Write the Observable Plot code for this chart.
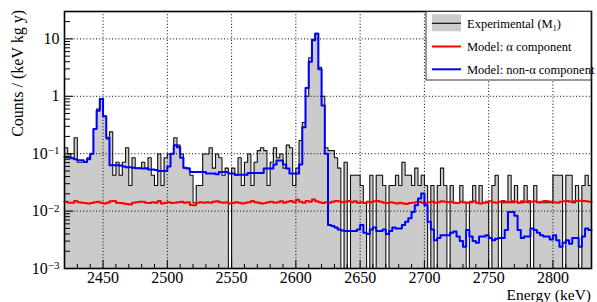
<!DOCTYPE html>
<html><head><meta charset="utf-8">
<script src="https://cdn.jsdelivr.net/npm/d3@7"></script>
<script src="https://cdn.jsdelivr.net/npm/@observablehq/plot@0.6"></script>
<style>
body{margin:0;background:#fff;}
#wrap{width:597px;height:302px;}
</style></head><body><div id="wrap"></div>
<script>
// Energy binning (keV)
const energyStart = 2420, binWidth = 2.5;
// Experimental (M1) counts / (keV kg y), one value per 2.5 keV bin
const experimental = [
0.127,0.099,0.085,0.19,0.071,0.071,0.071,0.085,0.099,0.27,
0.6,0.9,0.45,0.18,0.24,0.042,0.071,0.042,0.071,0.127,
0.028,0.085,0.056,0.056,0.071,0.056,0.085,0.042,0.028,0.099,
0.028,0.085,0.099,0.099,0.19,0.141,0.099,0.056,0.056,0.042,
0.014,0.028,0.028,0.099,0.099,0.127,0.056,0.099,0.085,0.042,
0.056,0,0.056,0.042,0.085,0.028,0.071,0.099,0.028,0.071,
0.113,0.127,0.113,0.028,0.071,0.127,0.085,0.099,0.056,0.141,
0.127,0.028,0.056,0.17,0.35,1.0,4.7,9.8,12.5,3.2,
1.0,0.127,0.113,0.113,0.085,0.056,0,0.071,0,0.042,
0.042,0.042,0.028,0.014,0,0.042,0,0.042,0.042,0.028,
0,0.028,0.028,0.042,0.028,0.071,0.042,0.042,0.028,0.056,
0.028,0.042,0.028,0,0.028,0,0.028,0.056,0.028,0,
0.028,0.014,0.014,0.028,0.014,0,0.014,0.028,0.014,0.028,
0.014,0.014,0,0.028,0.042,0,0.014,0.014,0.042,0.014,
0.028,0.014,0.014,0.028,0.014,0,0.028,0.014,0.014,0.014,
0.014,0.014,0.042,0.042,0.042,0,0.042,0.042,0.014,0.028,
0,0.028,0.042,0.028];
// Model: alpha component
const alphaModel = [
0.0145,0.0140,0.0140,0.0150,0.0143,0.0140,0.0138,0.0135,0.0138,0.0142,
0.0145,0.0140,0.0136,0.0140,0.0148,0.0150,0.0140,0.0138,0.0135,0.0133,
0.0130,0.0140,0.0143,0.0145,0.0146,0.0140,0.0138,0.0142,0.0140,0.0150,
0.0135,0.0140,0.0142,0.0138,0.0140,0.0143,0.0145,0.0140,0.0142,0.0128,
0.0127,0.0140,0.0142,0.0140,0.0143,0.0140,0.0145,0.0148,0.0143,0.0140,
0.0142,0.0135,0.0138,0.0142,0.0140,0.0136,0.0140,0.0143,0.0150,0.0142,
0.0140,0.0135,0.0138,0.0142,0.0145,0.0140,0.0143,0.0148,0.0140,0.0145,
0.0150,0.0142,0.0158,0.0145,0.0140,0.0150,0.0145,0.0160,0.0148,0.0142,
0.0138,0.0143,0.0140,0.0145,0.0150,0.0148,0.0142,0.0145,0.0150,0.0143,
0.0148,0.0140,0.0142,0.0138,0.0145,0.0142,0.0148,0.0150,0.0145,0.0140,
0.0138,0.0142,0.0140,0.0136,0.0140,0.0135,0.0133,0.0138,0.0140,0.0142,
0.0145,0.0140,0.0138,0.0142,0.0145,0.0140,0.0143,0.0148,0.0145,0.0142,
0.0145,0.0140,0.0138,0.0145,0.0142,0.0140,0.0145,0.0148,0.0140,0.0136,
0.0140,0.0145,0.0148,0.0143,0.0140,0.0145,0.0150,0.0145,0.0142,0.0148,
0.0145,0.0140,0.0148,0.0145,0.0150,0.0145,0.0148,0.0143,0.0145,0.0150,
0.0148,0.0145,0.0143,0.0140,0.0145,0.0148,0.0150,0.0146,0.0148,0.0150,
0.0152,0.0150,0.0148,0.0145];
// Model: non-alpha component
const nonAlphaModel = [
0.087,0.086,0.083,0.08,0.077,0.077,0.072,0.08,0.1,0.27,
0.56,0.9,0.45,0.19,0.063,0.063,0.063,0.062,0.06,0.058,
0.058,0.057,0.056,0.056,0.055,0.055,0.053,0.053,0.052,0.05,
0.05,0.05,0.06,0.1,0.14,0.13,0.085,0.057,0.055,0.048,
0.048,0.048,0.048,0.048,0.045,0.045,0.045,0.044,0.048,0.048,
0.048,0.045,0.045,0.043,0.043,0.043,0.043,0.046,0.046,0.046,
0.046,0.046,0.055,0.055,0.055,0.065,0.076,0.076,0.065,0.055,
0.045,0.045,0.045,0.065,0.29,1.4,4.0,9.5,12.3,2.95,
0.69,0.1,0.0057,0.0055,0.0052,0.0048,0.0046,0.0045,0.0045,0.0045,
0.0045,0.0048,0.0057,0.0042,0.004,0.0048,0.0052,0.0045,0.0045,0.0048,
0.004,0.0045,0.0052,0.005,0.005,0.0057,0.0065,0.0075,0.0096,0.0127,
0.0165,0.0202,0.0127,0.0065,0.0048,0.0031,0.0034,0.0038,0.0038,0.0038,
0.0042,0.0044,0.0036,0.003,0.0024,0.0047,0.0036,0.003,0.0028,0.0036,
0.0036,0.0038,0.0034,0.0031,0.0033,0.0034,0.0034,0.0047,0.0096,0.0096,
0.0083,0.0047,0.0034,0.0036,0.0036,0.005,0.0047,0.0042,0.0038,0.0036,
0.0036,0.0032,0.0038,0.0031,0.0024,0.0028,0.0031,0.0027,0.0034,0.0034,
0.0024,0.0036,0.005,0.0047];
// Axes
const xDomain = [2420, 2830];
const yDomain = [1e-3, 30];
const xMajor = [2450, 2500, 2550, 2600, 2650, 2700, 2750, 2800];
const yMajor = [1e-3, 1e-2, 1e-1, 1, 10];
const yTickLabels = ["10^\u22123", "10^\u22122", "10^\u22121", "1", "10"];
const legendLabels = ["Experimental (M", "Model: \u03b1 component", "Model: non-\u03b1 component"];

const xMinor = d3.range(2430, 2830, 10).filter(v => !xMajor.includes(v));
const yMinor = [];
for (let e = -3; e <= 1; e++) for (let m = 2; m <= 9; m++) { const v = m * Math.pow(10, e); if (v <= yDomain[1]) yMinor.push(v); }

function steps(values) {
  const pts = [];
  values.forEach((v, i) => {
    const lo = energyStart + i * binWidth, hi = lo + binWidth;
    const y = Math.max(v, yDomain[0]);
    pts.push({x: lo, y}, {x: hi, y});
  });
  return pts;
}
const expPts = steps(experimental);
const alphaPts = steps(alphaModel);
const nonAlphaPts = steps(nonAlphaModel);

const W = 597, H = 302, mL = 64, mR = 6, mT = 11, mB = 34;
const plotW = W - mL - mR, plotH = H - mT - mB;
const font = '"Liberation Serif", "Times New Roman", serif';

const chart = Plot.plot({
  width: W, height: H, marginLeft: mL, marginRight: mR, marginTop: mT, marginBottom: mB,
  style: {fontFamily: font, background: "white", color: "black"},
  x: {domain: xDomain},
  y: {type: "log", domain: yDomain},
  marks: [
    Plot.areaY(expPts, {x: "x", y1: yDomain[0], y2: "y", fill: "#cbcbcb"}),
    Plot.line(expPts, {x: "x", y: "y", stroke: "#111", strokeWidth: 1.1}),
    Plot.ruleX(xMajor, {stroke: "#000", strokeWidth: 1, strokeDasharray: "1,2.2"}),
    Plot.ruleY(yMajor.slice(1), {stroke: "#000", strokeWidth: 1, strokeDasharray: "1,2.2"}),
    Plot.line(alphaPts, {x: "x", y: "y", stroke: "#ff0000", strokeWidth: 2}),
    Plot.line(nonAlphaPts, {x: "x", y: "y", stroke: "#0000ff", strokeWidth: 2}),
    Plot.ruleY(yMajor, {stroke: "#000", insetRight: plotW - 9}),
    Plot.ruleY(yMinor, {stroke: "#000", insetRight: plotW - 6}),
    Plot.ruleX(xMajor, {stroke: "#000", insetTop: plotH - 8}),
    Plot.ruleX(xMinor, {stroke: "#000", insetTop: plotH - 4}),
    Plot.frame({stroke: "#000", strokeWidth: 1.6}),
    Plot.axisX(xMajor, {tickSize: 0, tickPadding: 3, fontSize: 16, label: null, tickFormat: d => String(d)}),
    Plot.axisY(yMajor, {tickSize: 0, tickPadding: 5, fontSize: 16, label: null,
      tickFormat: d => yTickLabels[yMajor.indexOf(d)]})
  ]
});

const svg = d3.select(chart);
// superscript exponents on y tick labels
svg.selectAll('g[aria-label="y-axis tick label"] text').each(function() {
  const t = this.textContent;
  const m = t.match(/^10\^(.+)$/);
  if (m) {
    const s = d3.select(this);
    s.text(null);
    s.append("tspan").text("10");
    s.append("tspan").attr("dy", "-0.42em").attr("font-size", "11px").text(m[1]);
  }
});
// axis titles
svg.append("text").attr("transform", "translate(23,10) rotate(-90)")
  .attr("text-anchor", "end").attr("font-family", font).attr("font-size", 16)
  .attr("fill", "black").text("Counts / (keV kg y)");
svg.append("text").attr("x", W - mR).attr("y", 299.5)
  .attr("text-anchor", "end").attr("font-family", font).attr("font-size", 15.5)
  .attr("fill", "black").text("Energy (keV)");
// legend
const lg = svg.append("g").attr("font-family", font).attr("font-size", 12.5).attr("text-anchor", "start");
const lx0 = 426, ly0 = 11.5, lx1 = W - mR, ly1 = 80;
lg.append("rect").attr("x", lx0).attr("y", ly0).attr("width", lx1 - lx0).attr("height", ly1 - ly0)
  .attr("fill", "white").attr("stroke", "#333").attr("stroke-width", 1);
const rows = [23.3, 46.5, 69.3];
lg.append("rect").attr("x", 432).attr("y", rows[0] - 9).attr("width", 29).attr("height", 17).attr("fill", "#cbcbcb");
lg.append("line").attr("x1", 432).attr("x2", 461).attr("y1", rows[0]).attr("y2", rows[0]).attr("stroke", "#000").attr("stroke-width", 1.1);
lg.append("line").attr("x1", 432).attr("x2", 461).attr("y1", rows[1]).attr("y2", rows[1]).attr("stroke", "#ff0000").attr("stroke-width", 2);
lg.append("line").attr("x1", 432).attr("x2", 461).attr("y1", rows[2]).attr("y2", rows[2]).attr("stroke", "#0000ff").attr("stroke-width", 2);
const t0 = lg.append("text").attr("x", 467).attr("y", rows[0] + 4.3).attr("text-anchor", "start");
t0.append("tspan").text(legendLabels[0]);
t0.append("tspan").attr("dy", 3).attr("font-size", 8).text("1");
t0.append("tspan").attr("dy", -3).text(")");
lg.append("text").attr("x", 467).attr("y", rows[1] + 4.3).attr("text-anchor", "start").text(legendLabels[1]);
lg.append("text").attr("x", 467).attr("y", rows[2] + 4.3).attr("text-anchor", "start").text(legendLabels[2]);

document.getElementById("wrap").appendChild(chart);
</script></body></html>
